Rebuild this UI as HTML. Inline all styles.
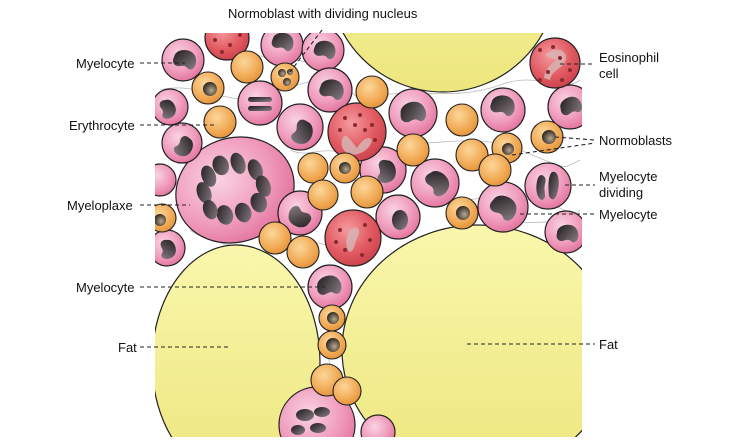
<!DOCTYPE html>
<html><head><meta charset="utf-8"><style>
html,body{margin:0;background:#fff;width:750px;height:447px;overflow:hidden}
svg{display:block}
text{font-family:"Liberation Sans",sans-serif;font-size:13px;fill:#111}
</style></head><body>
<svg width="750" height="447" viewBox="0 0 750 447" xmlns="http://www.w3.org/2000/svg">
<defs>
<clipPath id="fig"><rect x="155" y="33" width="427" height="404"/></clipPath>
<radialGradient id="pk" cx="0.4" cy="0.35" r="0.7"><stop offset="0" stop-color="#f9d3e2"/><stop offset="0.6" stop-color="#f09cbc"/><stop offset="1" stop-color="#e1709a"/></radialGradient>
<radialGradient id="or" cx="0.4" cy="0.35" r="0.7"><stop offset="0" stop-color="#fcd79a"/><stop offset="0.7" stop-color="#f0a650"/><stop offset="1" stop-color="#e0903a"/></radialGradient>
<radialGradient id="rd" cx="0.4" cy="0.35" r="0.7"><stop offset="0" stop-color="#f49a9e"/><stop offset="0.6" stop-color="#e25a62"/><stop offset="1" stop-color="#c9404a"/></radialGradient>
<linearGradient id="nc" x1="0" y1="0" x2="1" y2="1"><stop offset="0" stop-color="#1e1a1c"/><stop offset="1" stop-color="#8a7f84"/></linearGradient>
<radialGradient id="on" cx="0.6" cy="0.6" r="0.7"><stop offset="0" stop-color="#b8a890"/><stop offset="1" stop-color="#1a1512"/></radialGradient>
<linearGradient id="fat" x1="0" y1="0" x2="0" y2="1"><stop offset="0" stop-color="#f9f7ac"/><stop offset="1" stop-color="#ede67e"/></linearGradient>
<path id="kid" d="M-0.6,-0.3 C-0.5,-0.8 0.5,-0.8 0.6,-0.2 C0.7,0.3 0.3,0.6 0.1,0.3 C-0.1,0.1 -0.3,0.3 -0.5,0.2 C-0.7,0.1 -0.7,-0.1 -0.6,-0.3Z" fill="url(#nc)"/>
</defs>
<g clip-path="url(#fig)">
<rect x="155" y="33" width="427" height="404" fill="#fff"/>
<g fill="none" stroke="#bbb" stroke-width="0.8">
<path d="M160,90 C200,80 230,110 270,95 S330,70 360,100"/>
<path d="M170,160 C210,150 250,170 280,150"/>
<path d="M380,95 C420,90 460,100 500,85 S560,95 580,80"/>
<path d="M400,140 C430,150 470,130 520,150 S560,170 580,160"/>
<path d="M420,200 C450,210 480,190 530,200 S570,220 580,210"/>
<path d="M260,230 C290,250 320,230 350,260"/>
<path d="M320,300 C335,330 320,360 340,400"/>
<path d="M290,150 C310,160 330,140 350,160"/>
<path d="M190,230 C220,250 240,240 270,260"/>
<path d="M480,230 C510,215 540,230 575,215"/>
<path d="M230,50 C260,60 300,55 330,70"/>
</g>
<circle cx="443" cy="-22" r="114" fill="url(#fat)" stroke="#222" stroke-width="1.2"/>
<ellipse cx="236" cy="362" rx="84" ry="117" fill="url(#fat)" stroke="#222" stroke-width="1.2"/>
<ellipse cx="478" cy="350" rx="136" ry="125" fill="url(#fat)" stroke="#222" stroke-width="1.2"/>
<g transform="translate(235,190) rotate(-20)">
<ellipse rx="60" ry="52" fill="url(#pk)" stroke="#222" stroke-width="1.2"/>
<g fill="url(#nc)">
<ellipse cx="-30" cy="-8" rx="7" ry="11"/><ellipse cx="-20" cy="-22" rx="7" ry="11"/><ellipse cx="-5" cy="-28" rx="8" ry="10"/><ellipse cx="12" cy="-24" rx="7" ry="11"/><ellipse cx="26" cy="-12" rx="7" ry="11"/><ellipse cx="28" cy="6" rx="7" ry="11"/><ellipse cx="18" cy="20" rx="8" ry="10"/><ellipse cx="0" cy="24" rx="8" ry="10"/><ellipse cx="-18" cy="20" rx="8" ry="10"/><ellipse cx="-30" cy="10" rx="7" ry="10"/>
</g></g>
<g stroke="#222" stroke-width="1.2">
<circle cx="183" cy="60" r="21" fill="url(#pk)"/>
<circle cx="282" cy="45" r="21" fill="url(#pk)"/>
<circle cx="323" cy="50" r="21" fill="url(#pk)"/>
<circle cx="170" cy="107" r="18" fill="url(#pk)"/>
<circle cx="260" cy="103" r="22" fill="url(#pk)"/>
<circle cx="330" cy="90" r="22" fill="url(#pk)"/>
<circle cx="300" cy="127" r="23" fill="url(#pk)"/>
<circle cx="413" cy="113" r="24" fill="url(#pk)"/>
<circle cx="503" cy="110" r="22" fill="url(#pk)"/>
<circle cx="570" cy="107" r="22" fill="url(#pk)"/>
<circle cx="182" cy="143" r="20" fill="url(#pk)"/>
<circle cx="160" cy="180" r="16" fill="url(#pk)"/>
<circle cx="383" cy="170" r="23" fill="url(#pk)"/>
<circle cx="435" cy="183" r="24" fill="url(#pk)"/>
<circle cx="503" cy="207" r="25" fill="url(#pk)"/>
<circle cx="548" cy="186" r="23" fill="url(#pk)"/>
<circle cx="300" cy="213" r="22" fill="url(#pk)"/>
<circle cx="398" cy="217" r="22" fill="url(#pk)"/>
<circle cx="566" cy="232" r="21" fill="url(#pk)"/>
<circle cx="167" cy="248" r="18" fill="url(#pk)"/>
<circle cx="330" cy="287" r="22" fill="url(#pk)"/>
<circle cx="317" cy="425" r="38" fill="url(#pk)"/>
<circle cx="378" cy="432" r="17" fill="url(#pk)"/>
<circle cx="227" cy="38" r="22" fill="url(#rd)"/>
<circle cx="555" cy="63" r="25" fill="url(#rd)"/>
<circle cx="357" cy="132" r="29" fill="url(#rd)"/>
<circle cx="353" cy="238" r="28" fill="url(#rd)"/>
</g>
<g fill="#d8b4b4" opacity="0.85">
<path d="M545,55 C555,45 570,50 565,62 C560,70 552,70 550,80 L544,78 C545,68 552,64 556,60 Z"/>
<path d="M342,140 C345,130 350,140 357,148 C362,140 368,135 372,140 C370,150 360,155 350,155 C345,152 340,148 342,140Z"/>
<path d="M350,230 C355,225 362,228 358,236 C354,244 355,250 350,252 C345,248 345,238 350,230Z"/>
</g>
<g fill="#8a2a30">
<circle cx="540" cy="50" r="2"/><circle cx="560" cy="58" r="2"/><circle cx="570" cy="70" r="2"/><circle cx="548" cy="72" r="2"/><circle cx="562" cy="80" r="2"/><circle cx="540" cy="80" r="2"/><circle cx="553" cy="47" r="2"/>
<circle cx="345" cy="118" r="2"/><circle cx="360" cy="115" r="2"/><circle cx="372" cy="125" r="2"/><circle cx="340" cy="130" r="2"/><circle cx="365" cy="130" r="2"/><circle cx="355" cy="125" r="2"/><circle cx="375" cy="140" r="2"/>
<circle cx="340" cy="230" r="2"/><circle cx="365" cy="225" r="2"/><circle cx="370" cy="240" r="2"/><circle cx="345" cy="250" r="2"/><circle cx="362" cy="255" r="2"/><circle cx="336" cy="242" r="2"/>
<circle cx="215" cy="40" r="2"/><circle cx="230" cy="45" r="2"/><circle cx="240" cy="35" r="2"/><circle cx="222" cy="52" r="2"/>
</g>
<g>
<use href="#kid" transform="translate(185,62) scale(18)"/>
<use href="#kid" transform="translate(283,44) scale(17)"/>
<use href="#kid" transform="translate(325,52) scale(17)"/>
<use href="#kid" transform="translate(166,110) scale(15) rotate(60)"/>
<use href="#kid" transform="translate(332,92) scale(19)"/>
<use href="#kid" transform="translate(300,132) scale(19) rotate(100)"/>
<use href="#kid" transform="translate(414,115) scale(20) rotate(-20)"/>
<use href="#kid" transform="translate(503,108) scale(19)"/>
<use href="#kid" transform="translate(572,108) scale(17) rotate(-30)"/>
<use href="#kid" transform="translate(182,146) scale(16) rotate(110)"/>
<use href="#kid" transform="translate(384,172) scale(18) rotate(80)"/>
<use href="#kid" transform="translate(436,185) scale(20) rotate(40)"/>
<use href="#kid" transform="translate(503,210) scale(21) rotate(20)"/>
<use href="#kid" transform="translate(300,215) scale(18) rotate(200)"/>
<use href="#kid" transform="translate(568,236) scale(17) rotate(-10)"/>
<use href="#kid" transform="translate(166,250) scale(15) rotate(70)"/>
<use href="#kid" transform="translate(330,288) scale(19) rotate(-20)"/>
<ellipse cx="400" cy="220" rx="8" ry="10" fill="url(#nc)"/>
<rect x="248" y="97" width="24" height="5" rx="2.5" fill="url(#nc)"/>
<rect x="248" y="106" width="24" height="5" rx="2.5" fill="url(#nc)"/>
<path d="M538,178 C540,172 548,176 545,184 C543,192 548,198 542,200 C536,198 535,186 538,178Z" fill="url(#nc)"/>
<path d="M552,172 C558,170 560,180 558,190 C556,200 552,202 549,196 C548,186 548,176 552,172Z" fill="url(#nc)"/>
<ellipse cx="305" cy="415" rx="9" ry="6" fill="url(#nc)"/><ellipse cx="322" cy="412" rx="8" ry="5" fill="url(#nc)"/><ellipse cx="298" cy="430" rx="7" ry="5" fill="url(#nc)"/><ellipse cx="318" cy="428" rx="8" ry="5" fill="url(#nc)"/>
</g>
<g stroke="#222" stroke-width="1.1" fill="url(#or)">
<circle cx="247" cy="67" r="16"/><circle cx="285" cy="77" r="14"/><circle cx="208" cy="88" r="16"/>
<circle cx="220" cy="122" r="16"/><circle cx="372" cy="92" r="16"/><circle cx="462" cy="120" r="16"/>
<circle cx="547" cy="137" r="16"/><circle cx="507" cy="148" r="15"/><circle cx="472" cy="155" r="16"/>
<circle cx="495" cy="170" r="16"/><circle cx="413" cy="150" r="16"/><circle cx="313" cy="168" r="15"/>
<circle cx="345" cy="168" r="15"/><circle cx="323" cy="195" r="15"/><circle cx="367" cy="192" r="16"/>
<circle cx="462" cy="213" r="16"/><circle cx="162" cy="218" r="14"/><circle cx="275" cy="238" r="16"/>
<circle cx="303" cy="252" r="16"/><circle cx="332" cy="318" r="13"/><circle cx="332" cy="345" r="14"/>
<circle cx="327" cy="380" r="16"/><circle cx="347" cy="391" r="14"/>
</g>
<g fill="url(#on)">
<circle cx="210" cy="89" r="7"/><circle cx="549" cy="137" r="7"/><circle cx="508" cy="149" r="6"/>
<circle cx="345" cy="168" r="6"/><circle cx="463" cy="213" r="7"/><circle cx="160" cy="220" r="6"/>
<circle cx="333" cy="318" r="6"/><circle cx="333" cy="345" r="7"/>
<circle cx="282" cy="73" r="4"/><circle cx="287" cy="82" r="4"/><circle cx="290" cy="72" r="3"/>
</g>
</g>
<g stroke="#222" stroke-width="1.1" stroke-dasharray="4,3" fill="none">
<line x1="140" y1="63" x2="185" y2="63"/>
<line x1="140" y1="125" x2="215" y2="125"/>
<line x1="140" y1="205" x2="190" y2="205"/>
<line x1="140" y1="287" x2="325" y2="287"/>
<line x1="140" y1="347" x2="230" y2="347"/>
<line x1="322" y1="30" x2="290" y2="72"/>
<line x1="560" y1="64" x2="595" y2="64"/>
<line x1="555" y1="137" x2="595" y2="140"/>
<line x1="512" y1="155" x2="595" y2="143"/>
<line x1="565" y1="185" x2="595" y2="185"/>
<line x1="520" y1="214" x2="595" y2="214"/>
<line x1="467" y1="344" x2="595" y2="344"/>
</g>
<text x="76" y="68">Myelocyte</text>
<text x="69" y="130">Erythrocyte</text>
<text x="67" y="210">Myeloplaxe</text>
<text x="76" y="292">Myelocyte</text>
<text x="118" y="352">Fat</text>
<text x="228" y="18">Normoblast with dividing nucleus</text>
<text x="599" y="62">Eosinophil</text>
<text x="599" y="78">cell</text>
<text x="599" y="145">Normoblasts</text>
<text x="599" y="181">Myelocyte</text>
<text x="599" y="197">dividing</text>
<text x="599" y="219">Myelocyte</text>
<text x="599" y="349">Fat</text>
</svg>
</body></html>
